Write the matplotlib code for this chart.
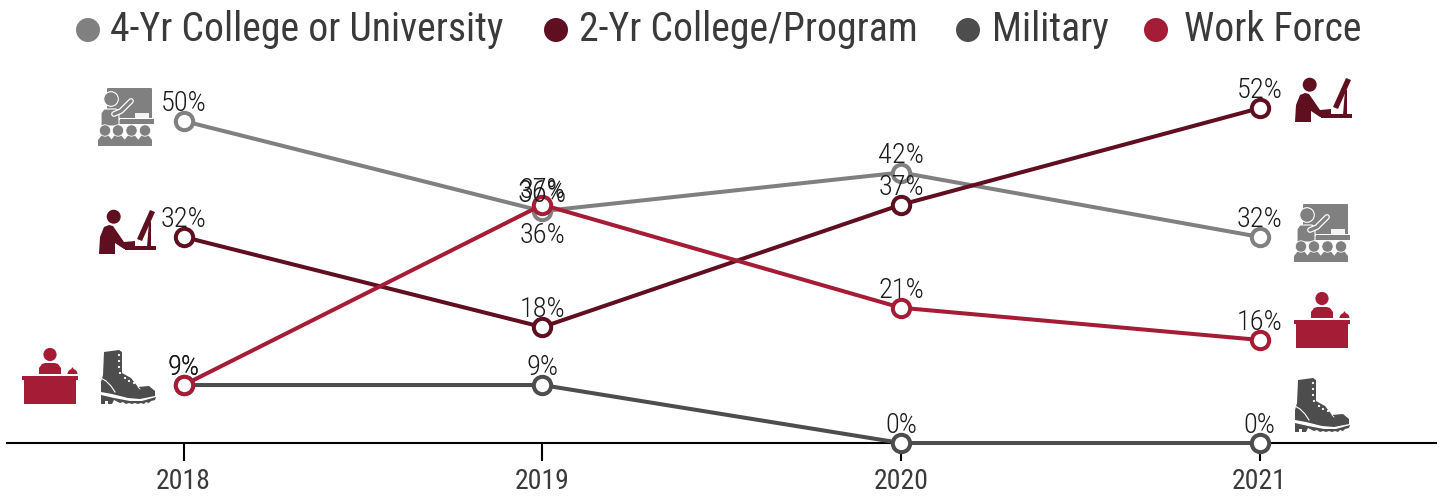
import matplotlib
matplotlib.use('Agg')
import matplotlib.pyplot as plt
from matplotlib.patches import Circle, FancyBboxPatch, Polygon, Rectangle, Wedge
from matplotlib.transforms import Affine2D

years = ['2018', '2019', '2020', '2021']
four_year = [50, 36, 42, 32]
two_year = [32, 18, 37, 52]
military = [9, 9, 0, 0]
work_force = [9, 37, 21, 16]

series_names = ['4-Yr College or University', '2-Yr College/Program', 'Military', 'Work Force']
GREY = '#808080'
MAROON = '#5f0f20'
SLATE = '#4d4d4d'
RED = '#a51c36'
TEXT = '#3a3a3a'

plt.rcParams['font.family'] = ['Roboto Condensed', 'DejaVu Sans']

W, H = 1445, 497
fig = plt.figure(figsize=(W / 100., H / 100.), dpi=100)

# axes run from the left end of the baseline to the right end, bottom at y=0 line
ax = fig.add_axes([6.5 / W, (H - 443.) / H, 1430. / W, 384. / H])
ax.set_xlim(-0.494, 3.493)
ax.set_ylim(0, 384 / 6.44)
ax.patch.set_alpha(0)
for side in ['top', 'left', 'right']:
    ax.spines[side].set_visible(False)
ax.spines['bottom'].set_linewidth(1.5)
ax.set_yticks([])
ax.set_xticks(range(len(years)))
ax.set_xticklabels(years, fontsize=20, color=TEXT)
ax.tick_params(axis='x', length=13, width=1.5, pad=5)

xs = list(range(len(years)))
for values, color in [(four_year, GREY), (two_year, MAROON), (military, SLATE), (work_force, RED)]:
    ax.plot(xs, values, '-o', color=color, lw=2.9, ms=12.5, mew=2.9, mfc='white',
            clip_on=False, zorder=3)


def label(x, y, text, offset=10, size=20.5):
    ax.annotate(text, (x, y), xytext=(0, offset * 0.72), textcoords='offset points',
                ha='center', va='baseline', fontsize=size, fontweight='light', color='#1c1c1c', zorder=5)


for values in [four_year, two_year, military, work_force]:
    for x, v in zip(xs, values):
        if values is four_year and x == 1:
            label(x, v, '%d%%' % v, -32)
        elif values is work_force and x == 1:
            label(x, v, '%d%%' % v, 7)
        else:
            label(x, v, '%d%%' % v)
# a stray label sits under the 37% in the original
label(1, 37, '36%', 3, 22)

# pixel overlay for the legend and the icons, y pointing down
over = fig.add_axes([0, 0, 1, 1])
over.set_xlim(0, W)
over.set_ylim(H, 0)
over.axis('off')
over.patch.set_alpha(0)

dot_x = [88, 556, 968, 1156]
text_x = [110, 579, 992, 1184]
for name, dx, tx, color in zip(series_names, dot_x, text_x, [GREY, MAROON, SLATE, RED]):
    over.add_patch(Circle((dx, 30), 12, color=color, lw=0))
    over.text(tx, 41, name, fontsize=28.6, color=TEXT, ha='left', va='baseline')


def place(x0, y0):
    return Affine2D().translate(x0, y0) + over.transData


def add(patch, tr):
    patch.set_transform(tr)
    over.add_patch(patch)


def teacher(x0, y0):
    tr = place(x0, y0)
    c = GREY
    add(FancyBboxPatch((10, 1), 43, 34, boxstyle='round,pad=1', fc=c, ec='none'), tr)
    add(Rectangle((37, 25), 14, 4.5, fc='#f4f4f4', ec='none'), tr)
    add(Rectangle((21, 30), 35, 1.5, fc='white', ec='none'), tr)
    add(Rectangle((22, 31), 34, 4.5, fc=c, ec='none'), tr)
    over.plot([16, 23, 33], [26, 23, 13], color='white', lw=4.2, solid_capstyle='round', transform=tr)
    add(Polygon([(3, 38), (3, 25), (6, 21), (18, 21), (21, 24), (21, 38)], fc=c, ec='white', lw=0.8), tr)
    over.plot([16, 23, 33], [26, 23, 13], color=c, lw=2.4, solid_capstyle='round', transform=tr)
    add(Circle((13, 11), 7.3, fc=c, ec='white', lw=0.8), tr)
    for cx in [7, 20, 33.5, 47]:
        add(Polygon([(cx - 7, 58), (cx - 7, 52), (cx - 3, 47), (cx + 3, 47), (cx + 7, 52), (cx + 7, 58)],
                    fc=c, ec='none'), tr)
        add(Circle((cx, 42.5), 5.7, fc=c, ec='white', lw=0.6), tr)


def student(x0, y0):
    tr = place(x0, y0)
    c = MAROON
    add(Circle((15.7, 6.7), 7, fc=c, ec='none'), tr)
    add(Polygon([(1, 44), (2, 27), (6, 17), (11, 15), (15, 16), (26, 32), (37, 31), (37, 38),
                 (26, 39), (17, 33), (17, 44)], fc=c, ec='none'), tr)
    add(Rectangle((27, 36), 31, 4, fc=c, ec='none'), tr)
    add(Polygon([(52, 0), (57, 2), (44, 31), (39, 29)], fc=c, ec='none'), tr)
    add(Polygon([(51, 12), (53, 12), (53, 37), (49, 37)], fc=c, ec='none'), tr)


def desk(x0, y0):
    tr = place(x0, y0)
    c = RED
    add(Circle((28, 6.5), 6.6, fc=c, ec='none'), tr)
    add(Polygon([(17, 26), (17, 20), (20, 16), (23, 15), (33, 15), (36, 16), (39, 20), (39, 26)],
                fc=c, ec='none'), tr)
    add(Rectangle((0, 28), 56, 4, fc=c, ec='none'), tr)
    add(Rectangle((2, 32), 52, 24, fc=c, ec='none'), tr)
    add(Wedge((50.5, 26), 5, 180, 360, fc=c, ec='none'), tr)
    add(Circle((50.5, 20.5), 1, fc=c, ec='none'), tr)


def boot(x0, y0):
    tr = place(x0, y0)
    c = SLATE
    add(Polygon([(4, 2), (19, 0), (22, 2), (22, 23), (31, 28), (38, 37), (49, 36), (55, 41), (55, 46),
                 (40, 49), (28, 48), (12, 44), (1, 42), (1, 32), (3, 25)], fc=c, ec='none'), tr)
    add(Polygon([(1, 45), (14, 48), (30, 51), (42, 51), (56, 47), (55, 50), (51, 51), (49, 53), (46, 52),
                 (44, 54), (41, 53), (38, 54), (35, 53), (32, 54), (29, 53), (26, 54), (23, 52), (20, 53),
                 (14, 50), (12, 54), (8, 54), (8, 51), (5, 51), (5, 54), (1, 54)], fc=c, ec='none'), tr)
    over.plot([1, 6, 11, 15], [28, 31, 36, 42], color='white', lw=0.8, transform=tr)
    over.plot([38, 40], [37, 39], color='white', lw=0.6, transform=tr)
    for dx, dy in [(19, 5), (19, 11), (19, 17), (20, 23), (25, 28), (29, 31), (34, 33)]:
        add(Circle((dx, dy), 1.1, fc='white', ec='none'), tr)


teacher(98, 88)
teacher(1294, 204)
student(98, 210)
student(1294, 78)
desk(22, 348)
desk(1294, 292)
boot(100, 350)
boot(1294, 378)

fig.savefig('out.png', dpi=100)
